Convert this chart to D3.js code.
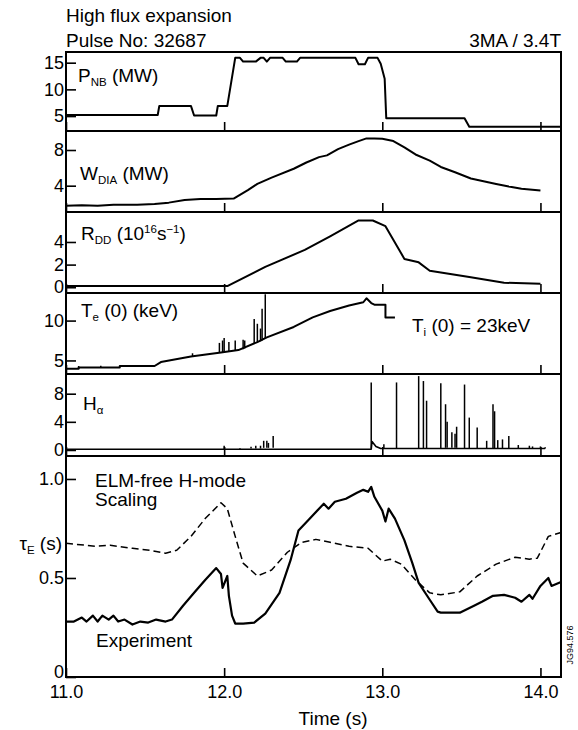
<!DOCTYPE html>
<html>
<head>
<meta charset="utf-8">
<script src="https://cdn.jsdelivr.net/npm/d3@7"></script>
<style>
  body { margin: 0; background: #fff; }
  svg text { font-family: "Liberation Sans", Arial, sans-serif; fill: #000; }
</style>
</head>
<body>
<div id="chart"></div>
<script>
// time axis
const timeTicks = [11, 12, 13, 14];

// P_NB (MW)
const pnb = [[11.0,5.2],[11.58,5.2],[11.59,6.9],[11.79,6.9],[11.81,5.1],[11.95,5.1],[11.96,6.9],[12.02,6.9],
  [12.07,15.9],[12.10,15.9],[12.12,15.2],[12.20,15.2],[12.23,15.9],[12.25,15.9],[12.27,15.2],[12.29,15.9],
  [12.37,15.9],[12.39,15.2],[12.46,15.2],[12.48,15.9],[12.83,15.9],[12.85,14.7],[12.89,14.7],[12.91,15.9],
  [12.97,15.9],[12.99,14.8],[13.015,12.0],[13.025,4.6],[13.52,4.6],[13.55,3.0],[14.13,3.0]];

// W_DIA (MW)
const wdia = [[11.0,1.75],[11.1,1.8],[11.2,1.75],[11.3,1.85],[11.45,1.85],[11.56,1.95],[11.65,2.1],[11.75,2.4],
  [11.85,2.5],[11.95,2.5],[12.06,2.55],[12.15,3.5],[12.21,4.2],[12.3,4.9],[12.44,5.9],[12.52,6.6],[12.6,7.2],
  [12.65,7.4],[12.72,8.1],[12.79,8.6],[12.85,9.0],[12.9,9.3],[12.95,9.3],[13.0,9.25],[13.07,9.0],[13.14,8.3],
  [13.21,7.5],[13.3,6.8],[13.37,6.1],[13.46,5.5],[13.56,4.8],[13.64,4.5],[13.72,4.2],[13.8,3.9],[13.88,3.65],[14.0,3.45]];

// R_DD (10^16 s^-1)
const rdd = [[11.0,0.1],[12.02,0.1],[12.26,1.8],[12.51,3.3],[12.67,4.5],[12.85,5.9],[12.94,5.9],[13.02,5.4],
  [13.14,2.5],[13.23,2.2],[13.3,1.45],[13.55,0.9],[13.77,0.4],[14.0,0.3]];

// T_e(0) (keV): trace and spikes [t, base, peak]
const te = [[11.0,3.95],[11.08,3.95],[11.08,4.1],[11.34,4.1],[11.34,4.3],[11.56,4.3],[11.6,4.8],[11.79,5.5],
  [11.98,6.0],[12.09,6.3],[12.21,7.3],[12.27,7.9],[12.44,9.2],[12.56,10.4],[12.67,11.2],[12.79,11.9],
  [12.88,12.3],[12.9,12.8],[12.93,12.2],[12.95,12.0],[13.02,12.0],[13.02,10.4],[13.08,10.4]];
const teSpikes = [[11.08,3.95,4.3],[11.22,4.1,4.35],[11.8,5.5,5.9],[11.97,6.0,7.2],[11.99,6.0,7.5],[12.0,6.0,7.8],
  [12.03,6.1,7.3],[12.07,6.2,7.5],[12.12,6.4,7.6],[12.13,6.5,7.5],[12.19,7.1,10.2],[12.21,7.3,9.6],
  [12.23,7.4,9.0],[12.24,7.5,11.5],[12.26,7.7,13.3]];

// H_alpha: baseline and spikes [t, base, peak]
const ha = [[11.0,0.1],[12.93,0.1],[12.935,1.2],[12.96,0.5],[12.99,0.2],[14.03,0.2]];
const haSpikes = [[12.0,0.1,0.6],[12.1,0.1,0.25],[12.17,0.2,0.45],[12.2,0.2,0.6],[12.23,0.2,0.6],[12.25,0.3,1.3],
  [12.27,0.3,1.3],[12.28,0.3,1.0],[12.31,0.3,2.0],[12.93,0.2,9.6],[13.01,0.2,0.8],[13.09,0.2,9.6],[13.23,0.2,10.5],
  [13.26,0.2,9.8],[13.28,0.2,7.0],[13.37,0.2,9.5],[13.4,0.3,6.5],[13.41,0.3,4.0],[13.44,0.3,2.5],[13.46,0.3,2.3],
  [13.47,0.3,3.3],[13.52,0.2,9.3],[13.55,0.2,4.6],[13.6,0.2,3.2],[13.66,0.2,1.3],[13.7,0.2,6.5],[13.71,0.2,5.5],
  [13.73,0.2,1.4],[13.76,0.2,1.5],[13.8,0.2,2.0],[13.86,0.2,0.7],[13.93,0.2,0.6],[13.95,0.2,0.5],[14.0,0.2,0.5],[14.03,0.2,0.4]];

// tau_E (s)
const scaling = [[11.0,0.675],[11.19,0.66],[11.28,0.665],[11.42,0.65],[11.53,0.64],[11.63,0.625],[11.7,0.64],
  [11.79,0.71],[11.88,0.8],[11.98,0.88],[12.02,0.85],[12.07,0.71],[12.12,0.575],[12.21,0.51],[12.3,0.54],
  [12.4,0.63],[12.49,0.68],[12.58,0.695],[12.67,0.68],[12.79,0.66],[12.91,0.65],[13.0,0.585],[13.05,0.595],
  [13.12,0.57],[13.21,0.49],[13.3,0.425],[13.37,0.415],[13.49,0.43],[13.6,0.51],[13.72,0.57],[13.84,0.605],
  [13.93,0.595],[13.98,0.6],[14.05,0.71],[14.13,0.73]];
const experiment = [[11.0,0.28],[11.05,0.28],[11.1,0.3],[11.13,0.28],[11.17,0.31],[11.2,0.28],[11.23,0.31],
  [11.27,0.29],[11.3,0.31],[11.33,0.28],[11.37,0.29],[11.42,0.265],[11.47,0.28],[11.52,0.275],[11.57,0.29],
  [11.63,0.28],[11.67,0.29],[11.74,0.36],[11.81,0.425],[11.88,0.49],[11.95,0.55],[11.98,0.52],[11.99,0.45],
  [12.02,0.51],[12.03,0.41],[12.05,0.31],[12.07,0.27],[12.12,0.27],[12.19,0.275],[12.26,0.32],[12.35,0.425],
  [12.42,0.59],[12.47,0.74],[12.53,0.79],[12.6,0.85],[12.63,0.875],[12.66,0.85],[12.7,0.885],[12.77,0.9],
  [12.84,0.93],[12.88,0.945],[12.91,0.935],[12.93,0.96],[12.95,0.91],[13.0,0.84],[13.02,0.785],[13.04,0.85],
  [13.08,0.8],[13.14,0.69],[13.19,0.575],[13.23,0.475],[13.3,0.39],[13.35,0.33],[13.37,0.325],[13.49,0.325],
  [13.58,0.36],[13.63,0.38],[13.7,0.41],[13.77,0.415],[13.84,0.4],[13.88,0.38],[13.93,0.415],[13.95,0.395],
  [14.0,0.46],[14.05,0.5],[14.07,0.46],[14.13,0.48]];

const width = 578, height = 730;
const left = 66, right = 561;

const svg = d3.select("#chart").append("svg")
    .attr("width", width)
    .attr("height", height);

const x = d3.scaleLinear().domain([11, 14.13]).range([left, right]);

// panels: pixel bounds and value range
const panels = [
    { top: 52, bottom: 131, domain: [2.2, 17.0], ticks: [5, 10, 15] },
    { top: 131, bottom: 212, domain: [1.05, 10.13], ticks: [4, 8] },
    { top: 212, bottom: 293, domain: [-0.51, 6.65], ticks: [0, 2, 4] },
    { top: 293, bottom: 374, domain: [3.3, 13.46], ticks: [5, 10] },
    { top: 374, bottom: 456, domain: [-0.86, 10.8], ticks: [0, 4, 8] },
    { top: 456, bottom: 677, domain: [0, 1.116], ticks: [0, 0.5, 1.0] }
];
panels.forEach(p => {
    p.y = d3.scaleLinear().domain(p.domain).range([p.bottom, p.top]);
});

// y axes with inward ticks
panels.forEach((p, i) => {
    const fmt = i == 5 ? (d => d == 0 ? "0" : d3.format(".1f")(d)) : d3.format("d");
    const g = svg.append("g")
        .attr("transform", `translate(${left},0)`)
        .call(d3.axisLeft(p.y).tickValues(p.ticks).tickSizeInner(-10).tickSizeOuter(0).tickPadding(2).tickFormat(fmt));
    g.select(".domain").remove();
    g.selectAll("line").attr("stroke", "#000").attr("stroke-width", 1.6);
    g.selectAll("text").style("font-size", "18px");
    // keep the bottom "0" clear of the time labels
    if (i == 5) g.selectAll("text").filter(d => d == 0).attr("dy", "0.03em");
});

// time ticks on each panel bottom
panels.forEach((p, i) => {
    const g = svg.append("g")
        .attr("transform", `translate(0,${p.bottom})`)
        .call(d3.axisBottom(x).tickValues(timeTicks).tickSizeInner(-9).tickSizeOuter(0).tickPadding(8)
            .tickFormat(i == 5 ? d3.format(".1f") : ""));
    g.select(".domain").remove();
    g.selectAll("line").attr("stroke", "#000").attr("stroke-width", 1.6);
    g.selectAll("text").style("font-size", "18px");
});

// panel frames
svg.selectAll("rect.frame")
    .data(panels)
    .enter()
    .append("rect")
    .attr("class", "frame")
    .attr("x", left)
    .attr("y", d => d.top)
    .attr("width", right - left)
    .attr("height", d => d.bottom - d.top)
    .attr("fill", "none")
    .attr("stroke", "#000")
    .attr("stroke-width", 2);

function drawLine(data, p, dash, w) {
    const line = d3.line().x(d => x(d[0])).y(d => p.y(d[1]));
    svg.append("path")
        .datum(data)
        .attr("d", line)
        .attr("fill", "none")
        .attr("stroke", "#000")
        .attr("stroke-width", w || 2)
        .attr("stroke-linejoin", "round")
        .attr("stroke-dasharray", dash || null);
}

function drawSpikes(data, p) {
    svg.selectAll(null)
        .data(data)
        .enter()
        .append("line")
        .attr("x1", d => x(d[0]))
        .attr("x2", d => x(d[0]))
        .attr("y1", d => p.y(d[1]))
        .attr("y2", d => p.y(d[2]))
        .attr("stroke", "#000")
        .attr("stroke-width", 1.5);
}

drawLine(pnb, panels[0]);
drawLine(wdia, panels[1]);
drawLine(rdd, panels[2]);
drawLine(te, panels[3]);
drawSpikes(teSpikes, panels[3]);
drawLine(ha, panels[4], null, 1.6);
drawSpikes(haSpikes, panels[4]);
drawLine(scaling, panels[5], "7,4", 1.5);
drawLine(experiment, panels[5], null, 2.2);

// texts
function label(xp, yp, parts, anchor) {
    const t = svg.append("text")
        .attr("x", xp)
        .attr("y", yp)
        .attr("text-anchor", anchor || "start")
        .style("font-size", "19px");
    let shift = 0;
    parts.forEach(part => {
        const [str, kind] = typeof part == "string" ? [part, "n"] : part;
        const target = kind == "sub" ? 4 : kind == "sup" ? -7 : 0;
        t.append("tspan")
            .attr("dy", target - shift)
            .style("font-size", kind == "n" ? "19px" : "11.5px")
            .text(str);
        shift = target;
    });
    return t;
}

label(66, 22, ["High flux expansion"]);
label(66, 47, ["Pulse No: 32687"]);
label(561, 47, ["3MA / 3.4T"], "end");

label(78, 82, ["P", ["NB", "sub"], " (MW)"]);
label(80, 180, ["W", ["DIA", "sub"], " (MW)"]);
label(81, 240, ["R", ["DD", "sub"], " (10", ["16", "sup"], "s", ["−1", "sup"], ")"]);
label(81, 317, ["T", ["e", "sub"], " (0) (keV)"]);
label(412, 332, ["T", ["i", "sub"], " (0) = 23keV"]);
label(83, 410, ["H", ["α", "sub"]]);
label(62, 550, ["τ", ["E", "sub"], " (s)"], "end");
label(95, 487, ["ELM-free H-mode"]);
label(95, 506, ["Scaling"]);
label(96, 647, ["Experiment"]);

svg.append("text")
    .attr("x", 333)
    .attr("y", 725)
    .attr("text-anchor", "middle")
    .style("font-size", "19px")
    .text("Time (s)");

svg.append("text")
    .attr("transform", "translate(573,645) rotate(-90)")
    .attr("text-anchor", "middle")
    .style("font-size", "9px")
    .text("JG94.576");
</script>
</body>
</html>
